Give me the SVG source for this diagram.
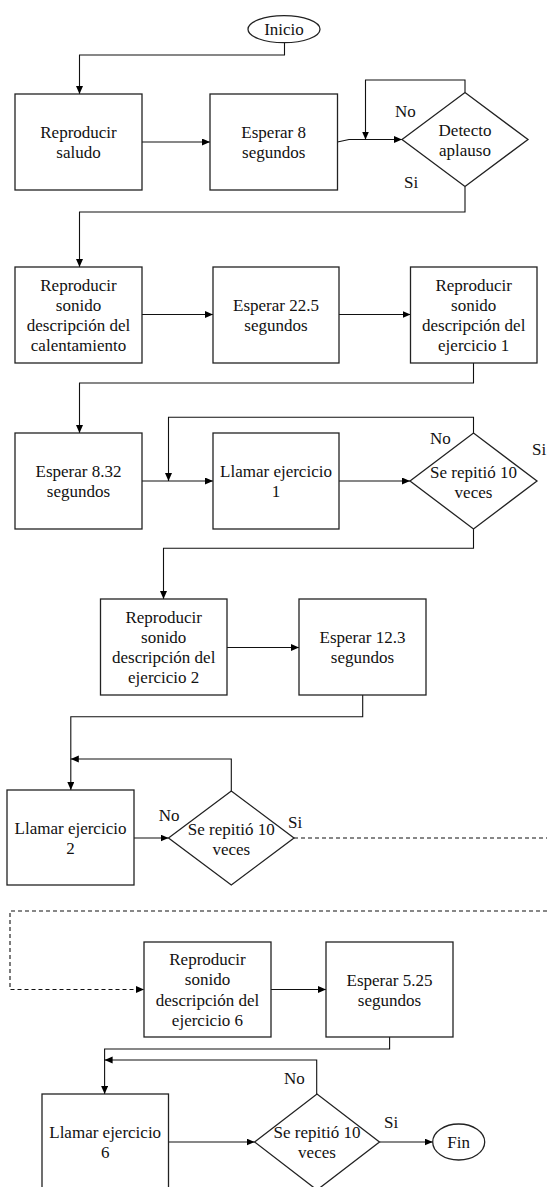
<svg xmlns="http://www.w3.org/2000/svg" width="547" height="1187" viewBox="0 0 547 1187" font-family="Liberation Serif, Times New Roman, serif" font-size="17">
<defs>
<marker id="ah" markerUnits="userSpaceOnUse" markerWidth="9" markerHeight="8" refX="8" refY="3.5" orient="auto"><path d="M0,0 L8,3.5 L0,7 z" fill="#000"/></marker>
<style>
.sh{fill:#fff;stroke:#222;stroke-width:1.3}
.t{fill:#111;text-anchor:middle}
.l{fill:#111}
.c{fill:none;stroke:#111;stroke-width:1.1}
.a{marker-end:url(#ah)}
.d{stroke-dasharray:4 3}
</style>
</defs>
<rect width="547" height="1187" fill="#fff"/>
<g id="connectors">
<path class="c a" d="M284.5,42.7 V55 H79.5 V94"/>
<path class="c a" d="M142,142 H210"/>
<path class="c a" d="M337.5,142 L349,139.5 H402"/>
<path class="c a" d="M465,92.5 V80 H365.5 V139.5"/>
<path class="c a" d="M465,186.5 V212 H79.5 V267"/>
<path class="c a" d="M142,314.5 H213"/>
<path class="c a" d="M339,314.5 H410.5"/>
<path class="c a" d="M473.5,363 V383 H79.5 V433"/>
<path class="c a" d="M142,481 H213"/>
<path class="c a" d="M339,481 H410"/>
<path class="c a" d="M473.5,433 V417.3 H168.5 V481"/>
<path class="c a" d="M473.5,529 V548.3 H163.5 V599"/>
<path class="c a" d="M227,647.5 H299"/>
<path class="c a" d="M362.7,695 V716.7 H70.8 V790"/>
<path class="c a" d="M134,838 H168.5"/>
<path class="c a" d="M231.3,791 V759 H70.8"/>
<path class="c d" d="M294,838 H547"/>
<path class="c d a" d="M547,911 H10 V989.5 H144"/>
<path class="c a" d="M271,989.5 H326"/>
<path class="c a" d="M389.6,1037 V1049 H104.6 V1094"/>
<path class="c a" d="M316.7,1094 V1060 H104.6"/>
<path class="c a" d="M168.5,1142 H254.6"/>
<path class="c a" d="M379.5,1142 H432.7"/>
</g>
<g id="inicio"><ellipse class="sh" cx="284" cy="29.2" rx="36" ry="13.5"/><text class="t" x="284" y="35">Inicio</text></g>
<g id="box1"><rect class="sh" x="15" y="94" width="127" height="96"/><text class="t" x="78.5" y="138">Reproducir</text><text class="t" x="78.5" y="158">saludo</text></g>
<g id="box2"><rect class="sh" x="210" y="94" width="127.5" height="96"/><text class="t" x="273.7" y="138">Esperar 8</text><text class="t" x="273.7" y="158">segundos</text></g>
<g id="dec1"><polygon class="sh" points="402,139.5 465,92.5 528,139.5 465,186.5"/><text class="t" x="465" y="135.5">Detecto</text><text class="t" x="465" y="155.5">aplauso</text></g>
<g id="dec1-labels"><text class="l" x="395" y="117">No</text><text class="l" x="404" y="188">Si</text></g>
<g id="box3"><rect class="sh" x="15" y="267" width="127" height="96"/><text class="t" x="78.5" y="290.5">Reproducir</text><text class="t" x="78.5" y="310.8">sonido</text><text class="t" x="78.5" y="331.1">descripción del</text><text class="t" x="78.5" y="351.4">calentamiento</text></g>
<g id="box4"><rect class="sh" x="213" y="267" width="126" height="96"/><text class="t" x="276" y="311">Esperar 22.5</text><text class="t" x="276" y="331">segundos</text></g>
<g id="box5"><rect class="sh" x="410.5" y="267" width="126.5" height="96"/><text class="t" x="473.7" y="290.5">Reproducir</text><text class="t" x="473.7" y="310.8">sonido</text><text class="t" x="473.7" y="331.1">descripción del</text><text class="t" x="473.7" y="351.4">ejercicio 1</text></g>
<g id="box6"><rect class="sh" x="15" y="433" width="127" height="96"/><text class="t" x="78.5" y="477">Esperar 8.32</text><text class="t" x="78.5" y="497">segundos</text></g>
<g id="box7"><rect class="sh" x="213" y="433" width="126" height="96"/><text class="t" x="276" y="477">Llamar ejercicio</text><text class="t" x="276" y="497">1</text></g>
<g id="dec2"><polygon class="sh" points="410,481 473.5,433 537,481 473.5,529"/><text class="t" x="473.5" y="478">Se repitió 10</text><text class="t" x="473.5" y="498">veces</text></g>
<g id="dec2-labels"><text class="l" x="430" y="444">No</text><text class="l" x="532" y="455">Si</text></g>
<g id="box8"><rect class="sh" x="100.5" y="599" width="126.5" height="96"/><text class="t" x="163.7" y="622.5">Reproducir</text><text class="t" x="163.7" y="642.8">sonido</text><text class="t" x="163.7" y="663.1">descripción del</text><text class="t" x="163.7" y="683.4">ejercicio 2</text></g>
<g id="box9"><rect class="sh" x="299" y="599" width="127" height="96"/><text class="t" x="362.5" y="643">Esperar 12.3</text><text class="t" x="362.5" y="663">segundos</text></g>
<g id="box10"><rect class="sh" x="7" y="790" width="127" height="95"/><text class="t" x="70.5" y="833.5">Llamar ejercicio</text><text class="t" x="70.5" y="853.5">2</text></g>
<g id="dec3"><polygon class="sh" points="168.5,838 231.3,791 294,838 231.3,885"/><text class="t" x="231.3" y="835">Se repitió 10</text><text class="t" x="231.3" y="855">veces</text></g>
<g id="dec3-labels"><text class="l" x="158.7" y="821">No</text><text class="l" x="288" y="828">Si</text></g>
<g id="box11"><rect class="sh" x="144" y="942" width="127" height="95"/><text class="t" x="207.5" y="965">Reproducir</text><text class="t" x="207.5" y="985.3">sonido</text><text class="t" x="207.5" y="1005.6">descripción del</text><text class="t" x="207.5" y="1026">ejercicio 6</text></g>
<g id="box12"><rect class="sh" x="326" y="942" width="127" height="95"/><text class="t" x="389.5" y="985.5">Esperar 5.25</text><text class="t" x="389.5" y="1005.5">segundos</text></g>
<g id="box13"><rect class="sh" x="42" y="1094" width="126.5" height="96"/><text class="t" x="105.2" y="1138">Llamar ejercicio</text><text class="t" x="105.2" y="1158">6</text></g>
<g id="dec4"><polygon class="sh" points="254.6,1142 317,1094 379.5,1142 317,1190"/><text class="t" x="317" y="1138">Se repitió 10</text><text class="t" x="317" y="1158">veces</text></g>
<g id="dec4-labels"><text class="l" x="284" y="1084">No</text><text class="l" x="384" y="1128">Si</text></g>
<g id="fin"><ellipse class="sh" cx="458.7" cy="1142" rx="26" ry="18"/><text class="t" x="458.7" y="1148">Fin</text></g>
</svg>
